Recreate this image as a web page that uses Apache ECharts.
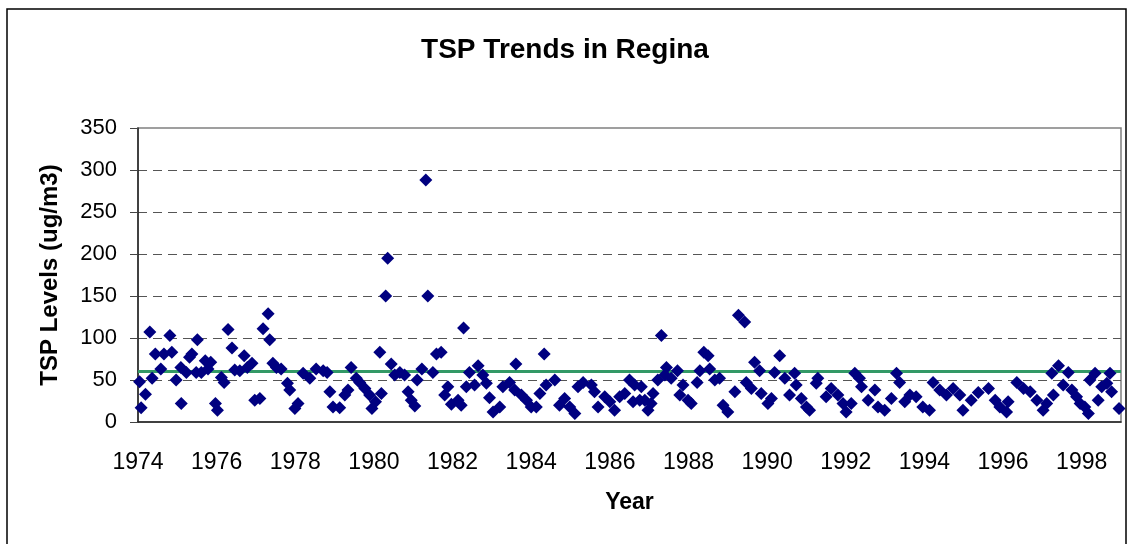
<!DOCTYPE html>
<html lang="en">
<head>
    <meta charset="UTF-8">
    <title>TSP Trends in Regina</title>
    <style>
        html, body { margin: 0; padding: 0; background: #fff; }
        #main { width: 1130px; height: 544px; }
    </style>
</head>
<body>
    <div id="main"></div>
    <script src="https://cdn.jsdelivr.net/npm/echarts@6.0.0/dist/echarts.min.js"></script>
    <script>
        // monthly TSP samples (decimal year, ug/m3)
        const years = [
            1974.04, 1974.08, 1974.19, 1974.30, 1974.36, 1974.44, 1974.58, 1974.66, 1974.81, 1974.86, 1974.97,
            1975.09, 1975.10, 1975.23, 1975.31, 1975.37, 1975.48, 1975.51, 1975.61, 1975.71, 1975.78, 1975.85, 1975.97,
            1976.02, 1976.12, 1976.19, 1976.29, 1976.39, 1976.46, 1976.59, 1976.70, 1976.78, 1976.90, 1976.97,
            1977.10, 1977.18, 1977.31, 1977.35, 1977.43, 1977.52, 1977.64, 1977.80, 1977.86, 1977.99,
            1978.07, 1978.20, 1978.37, 1978.53, 1978.71, 1978.81, 1978.88, 1978.96,
            1979.13, 1979.26, 1979.34, 1979.42, 1979.55, 1979.64, 1979.77, 1979.89, 1979.95,
            1980.04, 1980.15, 1980.19, 1980.30, 1980.35, 1980.44, 1980.53, 1980.66, 1980.78, 1980.87, 1980.95,
            1981.04, 1981.10, 1981.22, 1981.32, 1981.37, 1981.50, 1981.59, 1981.71, 1981.80, 1981.88, 1981.97,
            1982.14, 1982.22, 1982.28, 1982.35, 1982.43, 1982.56, 1982.65, 1982.77, 1982.86, 1982.94,
            1983.03, 1983.20, 1983.28, 1983.45, 1983.58, 1983.61, 1983.75, 1983.88,
            1984.00, 1984.13, 1984.22, 1984.33, 1984.38, 1984.60, 1984.72, 1984.85, 1984.98,
            1985.11, 1985.19, 1985.32, 1985.53, 1985.61, 1985.70, 1985.87,
            1986.00, 1986.12, 1986.25, 1986.38, 1986.50, 1986.59, 1986.63, 1986.76, 1986.80, 1986.89, 1986.97,
            1987.05, 1987.10, 1987.22, 1987.31, 1987.40, 1987.44, 1987.56, 1987.72, 1987.78, 1987.86, 1987.99,
            1988.07, 1988.22, 1988.29, 1988.39, 1988.50, 1988.54, 1988.67, 1988.79, 1988.88,
            1989.00, 1989.18, 1989.27, 1989.43, 1989.47, 1989.60, 1989.68, 1989.81, 1989.85,
            1990.02, 1990.11, 1990.19, 1990.32, 1990.45, 1990.57, 1990.70, 1990.74, 1990.87,
            1991.00, 1991.08, 1991.25, 1991.29, 1991.50, 1991.63, 1991.80, 1991.93,
            1992.01, 1992.14, 1992.23, 1992.35, 1992.40, 1992.57, 1992.74, 1992.82, 1992.99,
            1993.16, 1993.29, 1993.37, 1993.50, 1993.63, 1993.79, 1993.96,
            1994.13, 1994.22, 1994.39, 1994.56, 1994.73, 1994.90, 1994.98,
            1995.19, 1995.37, 1995.63, 1995.80, 1995.92,
            1996.09, 1996.13, 1996.35, 1996.52, 1996.69, 1996.86,
            1997.02, 1997.11, 1997.24, 1997.28, 1997.41, 1997.53, 1997.66, 1997.75, 1997.87, 1997.96,
            1998.08, 1998.17, 1998.21, 1998.34, 1998.42, 1998.51, 1998.64, 1998.72, 1998.76, 1998.95
        ];
        const tsp = [
            48, 17, 33, 107, 52, 81, 63, 81, 103, 83, 50,
            65, 22, 59, 77, 81, 59, 98, 59, 73, 63, 71, 22,
            14, 53, 47, 110, 88, 62, 61, 79, 65, 70, 26,
            28, 111, 129, 98, 70, 65, 63, 46, 38, 16,
            22, 58, 52, 63, 61, 59, 36, 18,
            17, 32, 38, 65, 52, 47, 40, 32, 16,
            24, 83, 34, 150, 195, 69, 56, 59, 56, 36, 26,
            19, 50, 63, 288, 150, 59, 81, 83, 32, 42, 21,
            26, 20, 112, 42, 59, 44, 67, 56, 46, 29,
            12, 18, 42, 47, 38, 69, 32, 26,
            18, 18, 34, 81, 44, 50, 20, 28, 18,
            10, 42, 47, 44, 36, 18, 30,
            24, 14, 30, 34, 50, 24, 44, 26, 42, 26, 14,
            22, 34, 50, 103, 56, 65, 52, 61, 32, 44, 26,
            22, 47, 61, 83, 79, 63, 50, 52, 20,
            12, 36, 127, 119, 47, 40, 71, 61, 34,
            22, 28, 59, 79, 52, 32, 58, 44, 28,
            18, 14, 46, 52, 30, 40, 32, 22,
            12, 22, 58, 52, 42, 26, 38, 18, 14,
            28, 58, 47, 24, 32, 30, 18,
            14, 47, 38, 32, 40, 32, 14,
            26, 35, 40, 26, 18,
            12, 24, 47, 40, 36, 26,
            14, 22, 58, 32, 67, 44, 59, 38, 30, 22,
            18, 10, 50, 58, 26, 42, 46, 58, 36, 16
        ];
        // objective level line
        const guideYears = [1974, 1999];
        const guideLevel = [60, 60];

        const font = "'Liberation Sans', Arial, sans-serif";
        const myChart = echarts.init(document.getElementById('main'));

        const option = {
            backgroundColor: '#fff',
            animation: false,
            title: {
                text: 'TSP Trends in Regina',
                left: 'center',
                top: 31,
                textStyle: { fontFamily: font, fontSize: 28, fontWeight: 'bold', color: '#000' }
            },
            graphic: [{
                type: 'rect',
                shape: { x: 7, y: 9, width: 1119, height: 560 },
                style: { fill: 'none', stroke: '#000', lineWidth: 1.5 },
                silent: true
            }],
            grid: {
                left: 138, right: 9, top: 128, bottom: 122,
                show: true, borderColor: '#808080', borderWidth: 1.5
            },
            xAxis: {
                type: 'value',
                min: 1974, max: 1999, interval: 2,
                name: 'Year',
                nameLocation: 'middle',
                nameGap: 69,
                nameTextStyle: { fontFamily: font, fontSize: 23, fontWeight: 'bold', color: '#000' },
                axisLine: { show: true, onZero: false, lineStyle: { color: '#222', width: 1.5 } },
                axisTick: { show: false },
                splitLine: { show: false },
                axisLabel: {
                    margin: 29, showMaxLabel: false,
                    fontFamily: font, fontSize: 23, color: '#000',
                    formatter: v => String(v)
                }
            },
            yAxis: {
                type: 'value',
                min: 0, max: 350, interval: 50,
                name: 'TSP Levels (ug/m3)',
                nameLocation: 'middle',
                nameRotate: 90,
                nameGap: 76,
                nameTextStyle: { fontFamily: font, fontSize: 24, fontWeight: 'bold', color: '#000' },
                axisLine: { show: true, lineStyle: { color: '#222', width: 1.5 } },
                axisTick: { show: true, length: 8, lineStyle: { color: '#444' } },
                splitLine: {
                    show: true, showMinLine: false, showMaxLine: false,
                    lineStyle: { color: '#555', width: 1.2, type: [9, 6] }
                },
                axisLabel: { margin: 21, fontFamily: font, fontSize: 22, color: '#000' }
            },
            series: [
                {
                    type: 'line',
                    data: guideYears.map((y, i) => [y, guideLevel[i]]),
                    symbol: 'none',
                    lineStyle: { color: '#339966', width: 3 },
                    silent: true,
                    z: 1
                },
                {
                    type: 'scatter',
                    data: years.map((y, i) => [y, tsp[i]]),
                    symbol: 'diamond',
                    symbolSize: 13,
                    itemStyle: { color: '#000080', opacity: 1 },
                    z: 2
                }
            ]
        };
        myChart.setOption(option);
    </script>
</body>
</html>
